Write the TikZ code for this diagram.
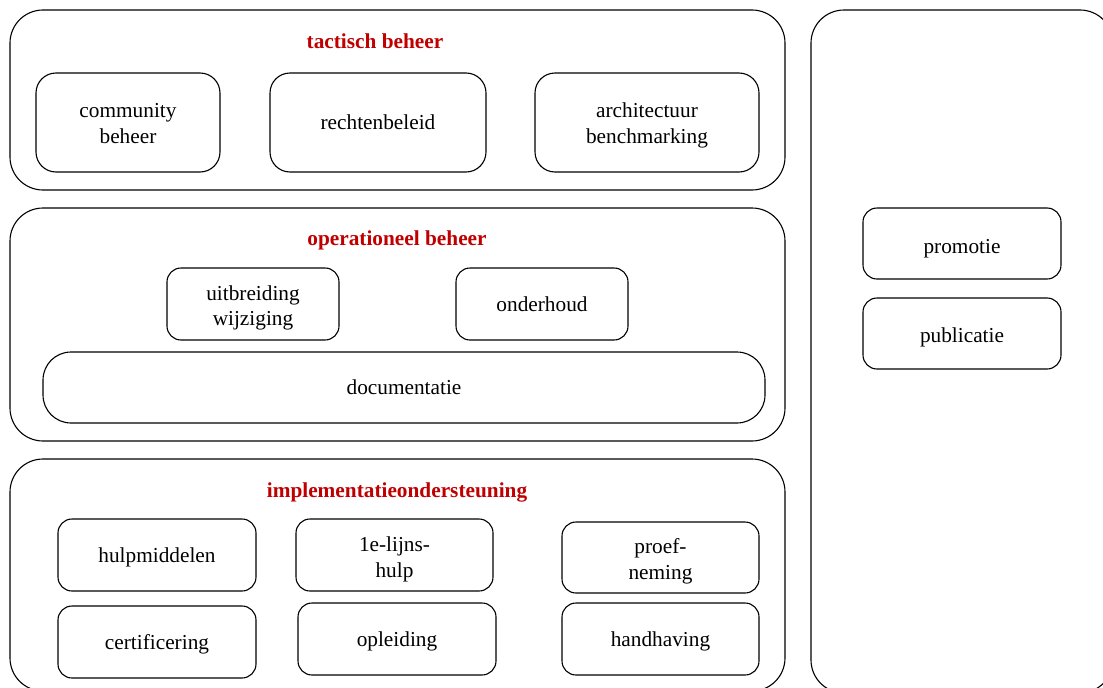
\documentclass[tikz,border=0pt]{standalone}
\usepackage{fontspec}
\setmainfont{Liberation Serif}
\definecolor{titlered}{RGB}{192,0,0}
\begin{document}
\begin{tikzpicture}[x=1pt,y=-1pt,
  every node/.style={font=\fontsize{21.3}{25.5}\selectfont},
  outerbox/.style={draw, line width=1.1pt, rounded corners=33pt, inner sep=0pt},
  boxshape/.style={draw, line width=1.1pt, rounded corners=#1, inner sep=0pt, align=center},
  boxshape/.default=14pt,
  oneline/.style={text height=14.5pt, text depth=0pt},
  boxlabel/.style={inner sep=0pt, align=center},
  grouptitle/.style={text=titlered, font=\fontsize{21.3}{25.5}\selectfont\bfseries, anchor=base, inner sep=0pt}
]
\path[use as bounding box, clip] (0,0) rectangle (1103,688);
% outer panels
\node[outerbox, minimum width=775pt, minimum height=180pt] (tact) at (397.5,100) {};
\node[outerbox, minimum width=775pt, minimum height=233pt] (oper) at (397.5,324.5) {};
\node[outerbox, minimum width=775pt, minimum height=232pt] (impl) at (397.5,575) {};
\node[outerbox, minimum width=302pt, minimum height=683pt] (right) at (962,351.5) {};
% titles
\node[grouptitle] (tacttitle) at (375,48.5) {tactisch beheer};
\node[grouptitle] (opertitle) at (397,245) {operationeel beheer};
\node[grouptitle] (impltitle) at (397,497) {implementatieondersteuning};
% tactisch beheer
\node[boxshape=20pt, minimum width=184pt, minimum height=99pt] (cb) at (128,122.5) {};
\node[boxlabel] (cbt) at ([yshift=-1pt]cb.center) {community\\beheer};
\node[boxshape=20pt, oneline, minimum width=216pt, minimum height=99pt] (rb) at (378,122.5) {rechtenbeleid};
\node[boxshape=20pt, minimum width=224pt, minimum height=99pt] (ab) at (647,122.5) {};
\node[boxlabel] (abt) at ([yshift=-3pt]ab.center) {architectuur\\benchmarking};
% operationeel beheer
\node[boxshape, minimum width=172pt, minimum height=72pt] (uw) at (253,304) {};
\node[boxlabel] (uwt) at ([yshift=-4pt]uw.center) {uitbreiding\\wijziging};
\node[boxshape, oneline, minimum width=172pt, minimum height=72pt] (oh) at (542,304) {onderhoud};
\node[boxshape=28pt, oneline, minimum width=722pt, minimum height=71pt] (doc) at (404,387.5) {documentatie};
% implementatieondersteuning
\node[boxshape, oneline, minimum width=198pt, minimum height=72pt] (hm) at (157,555) {hulpmiddelen};
\node[boxshape, minimum width=197pt, minimum height=72pt] (lh) at (394.5,555) {};
\node[boxlabel] (lht) at ([yshift=-4.5pt]lh.center) {1e-lijns-\\hulp};
\node[boxshape, minimum width=197pt, minimum height=71pt] (pn) at (660.5,557.5) {};
\node[boxlabel] (pnt) at ([yshift=-4pt]pn.center) {proef-\\neming};
\node[boxshape, oneline, minimum width=198pt, minimum height=72pt] (cf) at (157,642) {certificering};
\node[boxshape, oneline, minimum width=198pt, minimum height=72pt] (ol) at (397,639) {opleiding};
\node[boxshape, oneline, minimum width=197pt, minimum height=72pt] (hh) at (660.5,639) {handhaving};
% right panel
\node[boxshape, oneline, minimum width=198pt, minimum height=71pt] (pr) at (962,243.5) {\raisebox{-2.5pt}{promotie}};
\node[boxshape, oneline, minimum width=198pt, minimum height=71pt] (pb) at (962,333.5) {\raisebox{-2pt}{publicatie}};
\end{tikzpicture}
\end{document}
